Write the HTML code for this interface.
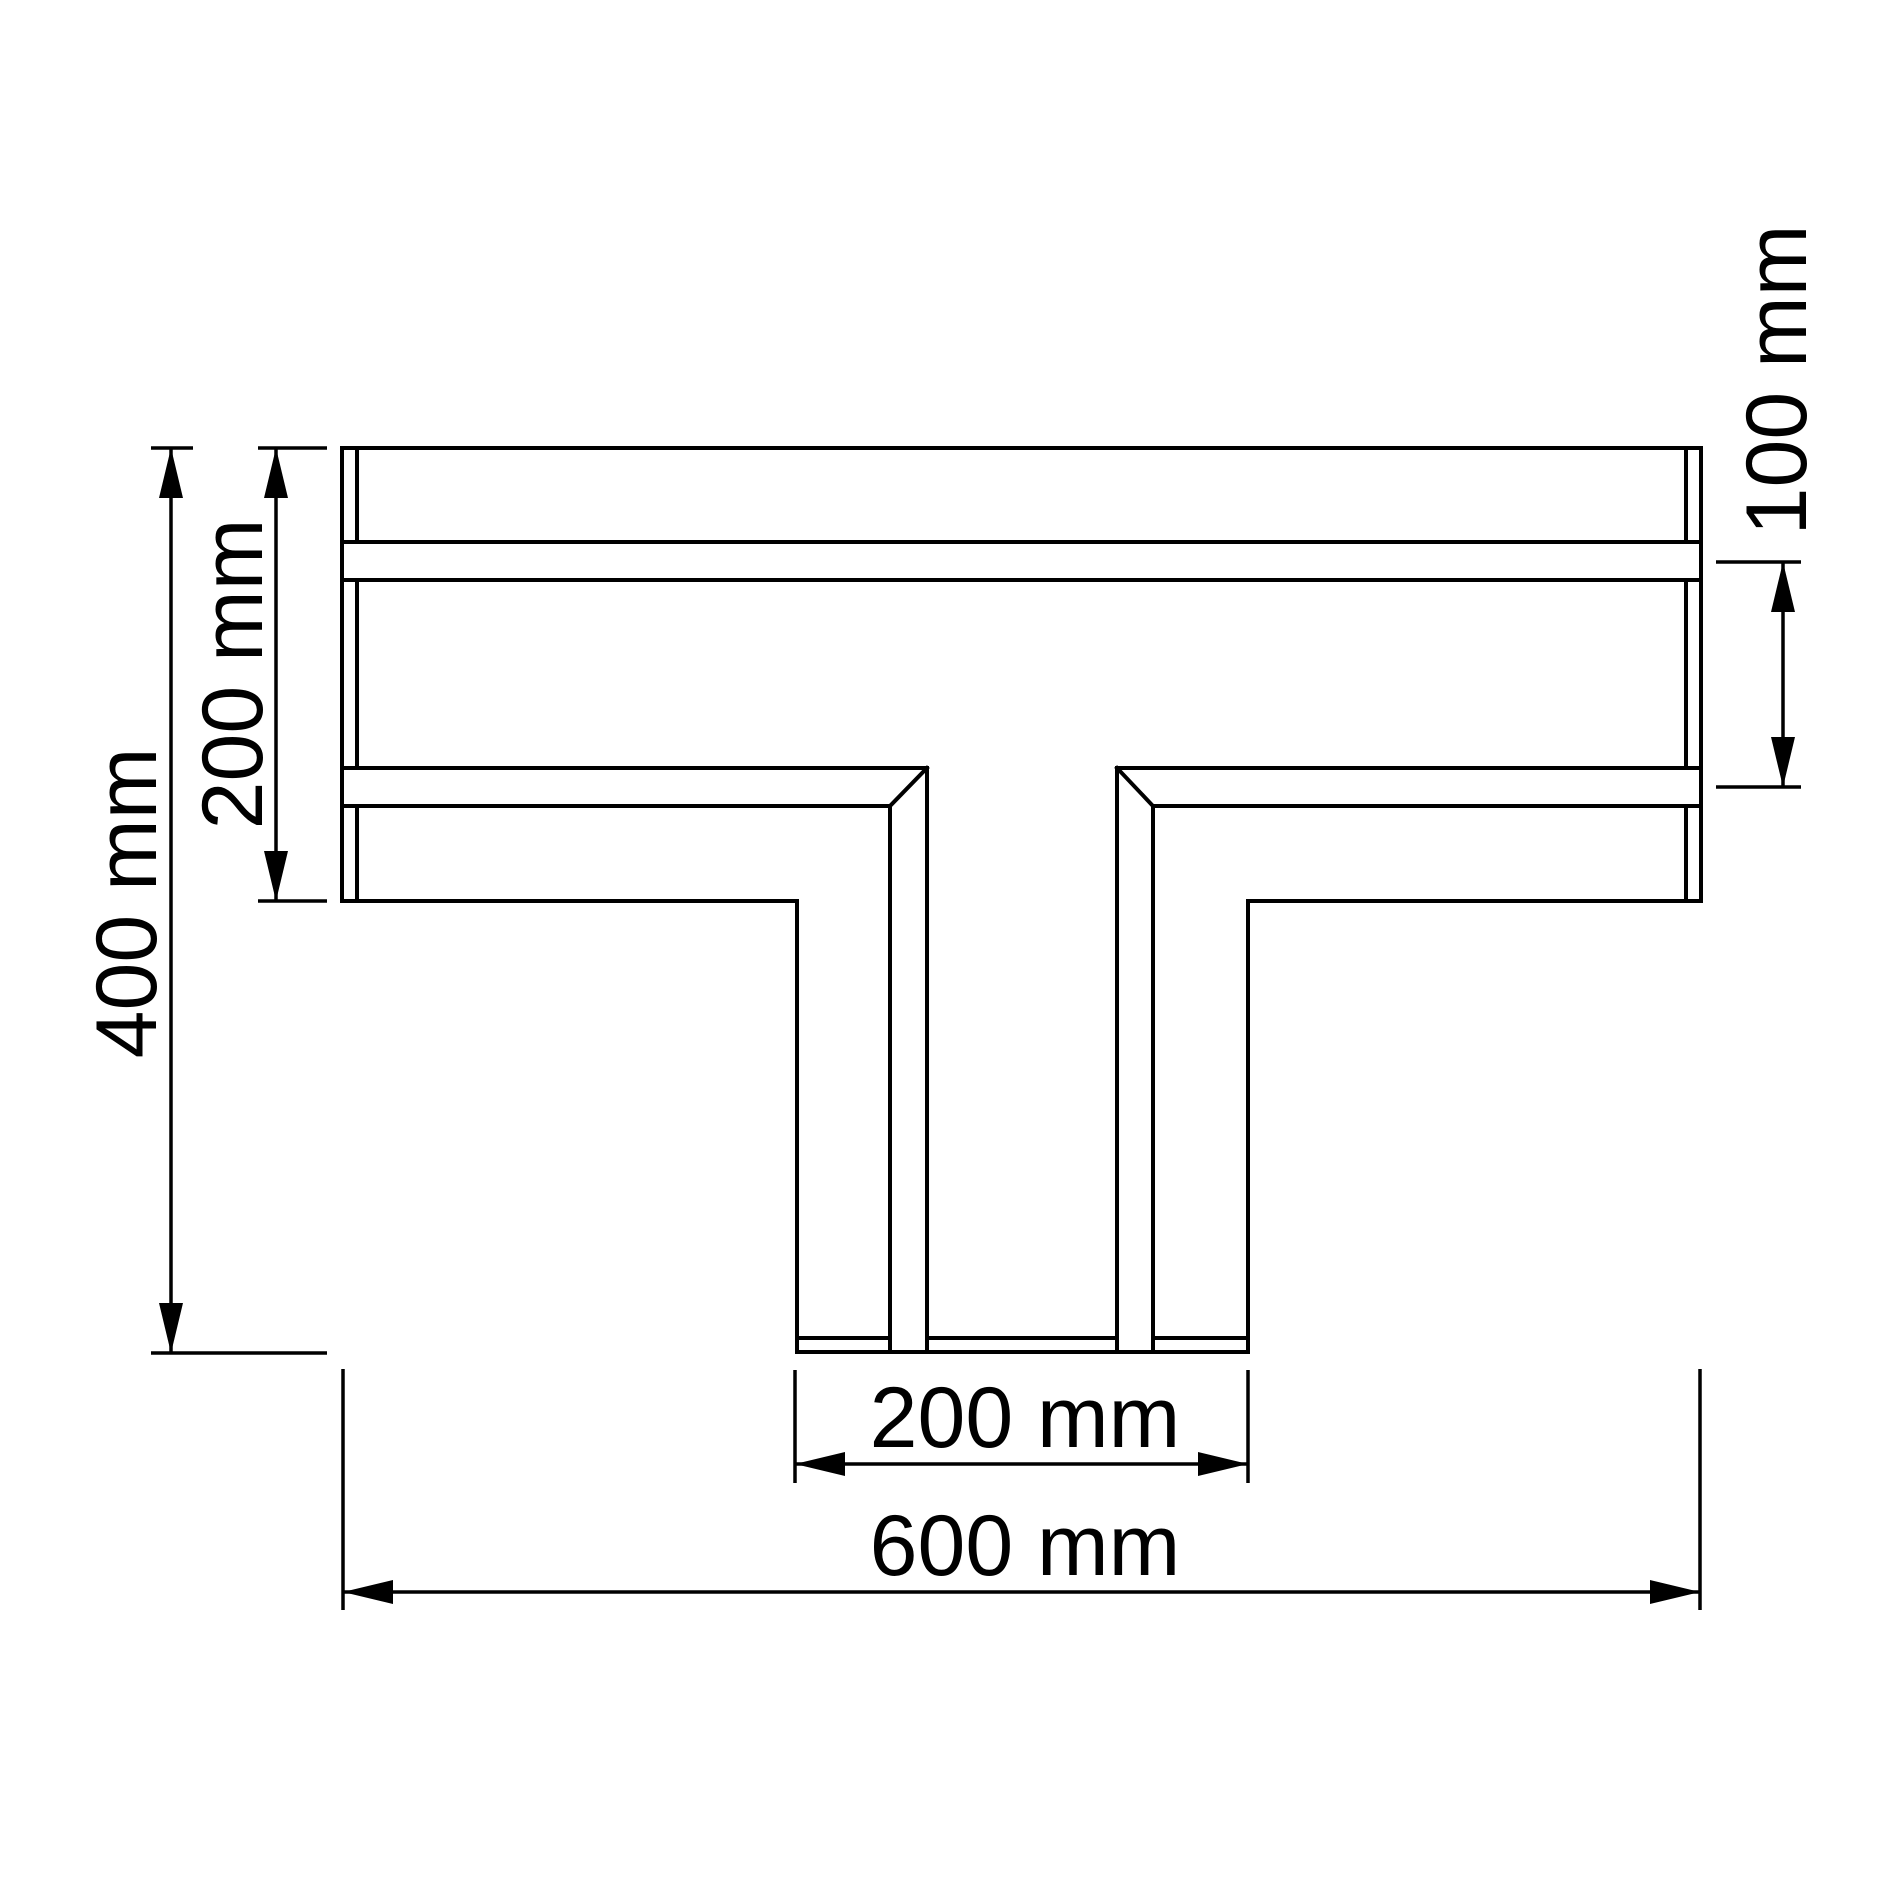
<!DOCTYPE html>
<html><head><meta charset="utf-8"><style>html,body{margin:0;padding:0;background:#fff}svg{display:block}</style></head>
<body>
<svg xmlns="http://www.w3.org/2000/svg" width="1900" height="1900" viewBox="0 0 1900 1900">
<rect width="1900" height="1900" fill="#fff"/>
<g stroke="#000" stroke-width="4" fill="none" stroke-linecap="square">
  <line x1="342" y1="448" x2="1701" y2="448"/>
  <line x1="342" y1="448" x2="342" y2="901"/>
  <line x1="1701" y1="448" x2="1701" y2="901"/>
  <line x1="357" y1="448" x2="357" y2="542"/>
  <line x1="357" y1="580" x2="357" y2="768"/>
  <line x1="357" y1="806" x2="357" y2="901"/>
  <line x1="1686" y1="448" x2="1686" y2="542"/>
  <line x1="1686" y1="580" x2="1686" y2="768"/>
  <line x1="1686" y1="806" x2="1686" y2="901"/>
  <line x1="342" y1="542" x2="1701" y2="542"/>
  <line x1="342" y1="580" x2="1701" y2="580"/>
  <line x1="342" y1="768" x2="927" y2="768"/>
  <line x1="342" y1="806" x2="890" y2="806"/>
  <line x1="927" y1="768" x2="890" y2="806"/>
  <line x1="1117" y1="768" x2="1701" y2="768"/>
  <line x1="1153" y1="806" x2="1701" y2="806"/>
  <line x1="1117" y1="768" x2="1153" y2="806"/>
  <line x1="342" y1="901" x2="797" y2="901"/>
  <line x1="1248" y1="901" x2="1701" y2="901"/>
  <line x1="797" y1="901" x2="797" y2="1352"/>
  <line x1="1248" y1="901" x2="1248" y2="1352"/>
  <line x1="890" y1="806" x2="890" y2="1352"/>
  <line x1="927" y1="768" x2="927" y2="1352"/>
  <line x1="1117" y1="768" x2="1117" y2="1352"/>
  <line x1="1153" y1="806" x2="1153" y2="1352"/>
  <line x1="797" y1="1352" x2="1248" y2="1352"/>
  <line x1="797" y1="1338" x2="890" y2="1338"/>
  <line x1="927" y1="1338" x2="1117" y2="1338"/>
  <line x1="1153" y1="1338" x2="1248" y2="1338"/>
</g>
<g stroke="#000" stroke-width="3.5" fill="none">
  <line x1="151" y1="448" x2="193" y2="448"/>
  <line x1="151" y1="1353" x2="327" y2="1353"/>
  <line x1="171" y1="448" x2="171" y2="1353"/>
  <line x1="258" y1="448" x2="327" y2="448"/>
  <line x1="258" y1="901" x2="327" y2="901"/>
  <line x1="276" y1="448" x2="276" y2="901"/>
  <line x1="1716" y1="562" x2="1801" y2="562"/>
  <line x1="1716" y1="787" x2="1801" y2="787"/>
  <line x1="1783" y1="562" x2="1783" y2="787"/>
  <line x1="795" y1="1370" x2="795" y2="1483"/>
  <line x1="1248" y1="1370" x2="1248" y2="1483"/>
  <line x1="795" y1="1464" x2="1248" y2="1464"/>
  <line x1="343" y1="1369" x2="343" y2="1610"/>
  <line x1="1700" y1="1369" x2="1700" y2="1610"/>
  <line x1="343" y1="1592" x2="1700" y2="1592"/>
</g>
<g fill="#000">
  <polygon points="171,448 159,498 183,498"/>
  <polygon points="171,1353 159,1303 183,1303"/>
  <polygon points="276,448 264,498 288,498"/>
  <polygon points="276,901 264,851 288,851"/>
  <polygon points="1783,562 1771,612 1795,612"/>
  <polygon points="1783,787 1771,737 1795,737"/>
  <polygon points="795,1464 845,1452 845,1476"/>
  <polygon points="1248,1464 1198,1452 1198,1476"/>
  <polygon points="343,1592 393,1580 393,1604"/>
  <polygon points="1700,1592 1650,1580 1650,1604"/>
</g>
<g font-family="Liberation Sans, Arial, sans-serif" font-size="86" fill="#000" text-anchor="middle">
  <text x="1025" y="1447">200 mm</text>
  <text x="1025" y="1575">600 mm</text>
  <text transform="translate(156,903) rotate(-90)" x="0" y="0">400 mm</text>
  <text transform="translate(262,674) rotate(-90)" x="0" y="0">200 mm</text>
  <text transform="translate(1806,380) rotate(-90)" x="0" y="0">100 mm</text>
</g>
</svg>
</body></html>
